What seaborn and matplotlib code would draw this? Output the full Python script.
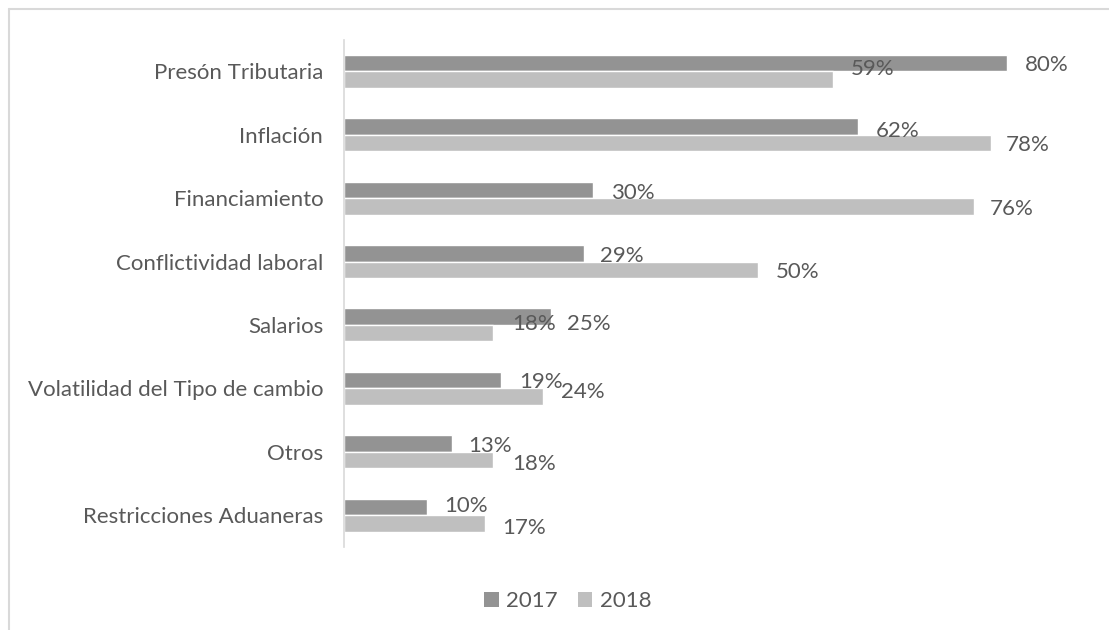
import matplotlib
matplotlib.use("Agg")
import matplotlib.pyplot as plt
import seaborn as sns
import pandas as pd
from matplotlib.lines import Line2D
from matplotlib.patches import Patch

categories = ["Presón Tributaria", "Inflación", "Financiamiento", "Conflictividad laboral",
              "Salarios", "Volatilidad del Tipo de cambio", "Otros", "Restricciones Aduaneras"]
years = ["2017", "2018"]
values_2017 = [0.80, 0.62, 0.30, 0.29, 0.25, 0.19, 0.13, 0.10]
values_2018 = [0.59, 0.78, 0.76, 0.50, 0.18, 0.24, 0.18, 0.17]

df = pd.DataFrame({
    "Categoria": categories * 2,
    "Año": [years[0]] * len(categories) + [years[1]] * len(categories),
    "Valor": values_2017 + values_2018,
})

colors = {"2017": "#939393", "2018": "#bfbfbf"}
text_color = "#595959"

# label placement offsets (pixels; x right, y up) mimicking the reference's data labels
label_dx = {"2017": [18, 18, 18, 16, 16, 18, 16, 17],
            "2018": [18, 15, 16, 17, 19, 18, 19, 17]}
label_dy = {"2017": [-2, -5, -3, -3, -7, -2, -2, 1],
            "2018": [10, -2, -3, -2, 9, 5, -4, -4]}

sns.set_theme(style="white")
plt.rcParams["font.family"] = ["Lato", "DejaVu Sans"]
fs = 16

fig = plt.figure(figsize=(11.09, 6.30), dpi=100)
ax = fig.add_axes([344 / 1109, 1 - 547 / 630, 746 / 1109, (547 - 39.5) / 630])

sns.barplot(data=df, y="Categoria", x="Valor", hue="Año", order=categories,
            hue_order=years, palette=colors, orient="h", width=0.52,
            dodge=True, ax=ax, legend=False, saturation=1)

ax.set_xlim(0, 0.9)
ax.set_ylim(len(categories) - 0.5, -0.5)
ax.set_xlabel("")
ax.set_ylabel("")
ax.set_xticks([])
for s in ["top", "right", "bottom"]:
    ax.spines[s].set_visible(False)
ax.spines["left"].set_color("#d9d9d9")
ax.spines["left"].set_linewidth(1.2)
ax.tick_params(axis="y", length=0, pad=15, labelsize=fs, labelcolor=text_color)

for container, yr in zip(ax.containers, years):
    for i, bar in enumerate(container):
        w = bar.get_width()
        yc = bar.get_y() + bar.get_height() / 2
        ax.annotate(f"{w * 100:.0f}%", xy=(w, yc), xytext=(label_dx[yr][i], label_dy[yr][i]),
                    textcoords="offset pixels", ha="left", va="center",
                    fontsize=fs, color=text_color)

handles = [Patch(facecolor=colors[y], edgecolor="none") for y in years]
fig.legend(handles, years, loc="center", bbox_to_anchor=(568 / 1109, 1 - 601 / 630),
           ncol=2, frameon=False, fontsize=fs, handlelength=0.65, handleheight=0.65,
           handletextpad=0.35, columnspacing=0.9, labelcolor=text_color)

# outer chart frame (top and left edges visible)
fig.add_artist(Line2D([9 / 1109, 1], [1 - 9 / 630, 1 - 9 / 630], color="#d9d9d9", lw=1.5,
                      transform=fig.transFigure))
fig.add_artist(Line2D([9 / 1109, 9 / 1109], [0, 1 - 9 / 630], color="#d9d9d9", lw=1.5,
                      transform=fig.transFigure))

fig.savefig("out.png", dpi=100, facecolor="white")
